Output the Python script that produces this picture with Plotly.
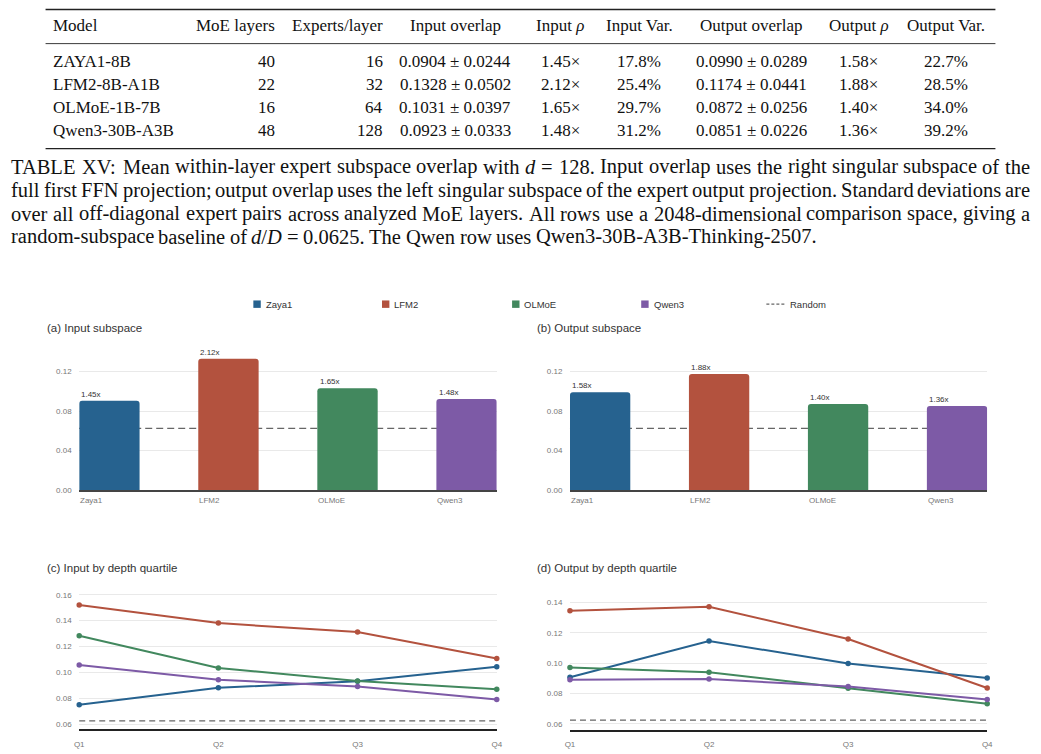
import re
import plotly.graph_objects as go

W, H = 1041, 754

# ---------------- data ----------------
models = ["Zaya1", "LFM2", "OLMoE", "Qwen3"]
colors = ["#26628F", "#B3523E", "#42885E", "#7D5AA6"]
input_overlap = [0.0904, 0.1328, 0.1031, 0.0923]
output_overlap = [0.0990, 0.1174, 0.0872, 0.0851]
input_ratio = ["1.45x", "2.12x", "1.65x", "1.48x"]
output_ratio = ["1.58x", "1.88x", "1.40x", "1.36x"]
random_baseline = 0.0625

quartiles = ["Q1", "Q2", "Q3", "Q4"]
zaya_input_q = [0.0751, 0.0881, 0.0932, 0.1044]
lfm_input_q = [0.1521, 0.1381, 0.1312, 0.1108]
olmoe_input_q = [0.1284, 0.1034, 0.0934, 0.0870]
qwen_input_q = [0.1057, 0.0944, 0.0891, 0.0791]
zaya_output_q = [0.0907, 0.1146, 0.0998, 0.0902]
lfm_output_q = [0.1346, 0.1372, 0.1159, 0.0837]
olmoe_output_q = [0.0972, 0.0941, 0.0835, 0.0733]
qwen_output_q = [0.0891, 0.0896, 0.0846, 0.0761]

bar_ticks = [0.00, 0.04, 0.08, 0.12]
in_q_ticks = [0.06, 0.08, 0.10, 0.12, 0.14, 0.16]
out_q_ticks = [0.06, 0.08, 0.10, 0.12, 0.14]

table_header = ["Model", "MoE layers", "Experts/layer", "Input overlap", "Input <i>ρ</i>",
                "Input Var.", "Output overlap", "Output <i>ρ</i>", "Output Var."]
table_models = ["ZAYA1-8B", "LFM2-8B-A1B", "OLMoE-1B-7B", "Qwen3-30B-A3B"]
moe_layers = ["40", "22", "16", "48"]
experts_per_layer = ["16", "32", "64", "128"]
input_overlap_txt = ["0.0904 ± 0.0244", "0.1328 ± 0.0502", "0.1031 ± 0.0397", "0.0923 ± 0.0333"]
input_rho_txt = ["1.45×", "2.12×", "1.65×", "1.48×"]
input_var_txt = ["17.8%", "25.4%", "29.7%", "31.2%"]
output_overlap_txt = ["0.0990 ± 0.0289", "0.1174 ± 0.0441", "0.0872 ± 0.0256", "0.0851 ± 0.0226"]
output_rho_txt = ["1.58×", "1.88×", "1.40×", "1.36×"]
output_var_txt = ["22.7%", "28.5%", "34.0%", "39.2%"]

caption_lines = [
    "TABLE XV: Mean within-layer expert subspace overlap with <i>d</i> = 128. Input overlap uses the right singular subspace of the",
    "full first FFN projection; output overlap uses the left singular subspace of the expert output projection. Standard deviations are",
    "over all off-diagonal expert pairs across analyzed MoE layers. All rows use a 2048-dimensional comparison space, giving a",
    "random-subspace baseline of <i>d</i>/<i>D</i> = 0.0625. The Qwen row uses Qwen3-30B-A3B-Thinking-2507.",
]

# ---------------- helpers ----------------
def px(x):
    return x / W

def py(y):
    return 1 - y / H

SANS = "Liberation Sans, Arial, sans-serif"
SERIF = "Liberation Serif, Times New Roman, serif"

_times = {}
for chars, w in [(" ", 250), ("!", 333), ("%", 833), ("(", 333), (")", 333), (",", 250), ("-", 333),
                 (".", 250), ("/", 278), ("0123456789", 500), (":;", 278), ("=", 564), ("?", 444),
                 ("A", 722), ("B", 667), ("C", 667), ("D", 722), ("E", 611), ("F", 556), ("G", 722),
                 ("H", 722), ("I", 333), ("J", 389), ("K", 722), ("L", 611), ("M", 889), ("N", 722),
                 ("O", 722), ("P", 556), ("Q", 722), ("R", 667), ("S", 556), ("T", 611), ("U", 722),
                 ("V", 722), ("W", 944), ("X", 722), ("Y", 722), ("Z", 611),
                 ("a", 444), ("b", 500), ("c", 444), ("d", 500), ("e", 444), ("f", 333), ("g", 500),
                 ("h", 500), ("i", 278), ("j", 278), ("k", 500), ("l", 278), ("m", 778), ("n", 500),
                 ("o", 500), ("p", 500), ("q", 500), ("r", 333), ("s", 389), ("t", 278), ("u", 500),
                 ("v", 500), ("w", 722), ("x", 500), ("y", 500), ("z", 444)]:
    for c in chars:
        _times[c] = w

def text_width(s, fs):
    plain = re.sub(r"<[^>]+>", "", s)
    return sum(_times.get(c, 500) for c in plain) * fs / 1000.0

fig = go.Figure()
annotations = []
shapes = []

# ---------------- table ----------------
TFS = 17
col_specs = [  # (x, anchor)
    (48, "left"), (274, "right"), (383, "right"), (455, "center"), (561, "center"),
    (641, "center"), (754, "center"), (863, "center"), (951, "center"),
]
header_y = 24
row_ys = [60, 83.3, 106.7, 130]
for (x, anc), txt in zip(col_specs, table_header):
    annotations.append(dict(x=px(x), y=py(header_y), xref="paper", yref="paper", text=txt,
                            showarrow=False, xanchor=anc, yanchor="middle", borderpad=0,
                            font=dict(family=SERIF, size=TFS, color="#111")))
columns = [table_models, moe_layers, experts_per_layer, input_overlap_txt, input_rho_txt,
           input_var_txt, output_overlap_txt, output_rho_txt, output_var_txt]
for (x, anc), col in zip(col_specs, columns):
    for ry, txt in zip(row_ys, col):
        annotations.append(dict(x=px(x), y=py(ry), xref="paper", yref="paper", text=txt,
                                showarrow=False, xanchor=anc, yanchor="middle", borderpad=0,
                                font=dict(family=SERIF, size=TFS, color="#111")))
for yy, lw in [(7.5, 1.4), (42, 0.9), (148, 1.4)]:
    shapes.append(dict(type="line", xref="paper", yref="paper", x0=px(41), x1=px(1001),
                       y0=py(yy), y1=py(yy), line=dict(color="#222", width=lw)))

# ---------------- caption (justified) ----------------
CFS = 20.5
cap_left, cap_right = 5, 1035
cap_ys = [166.5, 190, 213.5, 237]
for i, (line, cy) in enumerate(zip(caption_lines, cap_ys)):
    words = line.split(" ")
    widths = [text_width(w, CFS) for w in words]
    if i < len(caption_lines) - 1:
        gap = (cap_right - cap_left - sum(widths)) / (len(words) - 1)
    else:
        gap = 0.25 * CFS
    xx = cap_left
    for w, ww in zip(words, widths):
        annotations.append(dict(x=px(xx), y=py(cy), xref="paper", yref="paper", text=w,
                                showarrow=False, xanchor="left", yanchor="middle", borderpad=0,
                                font=dict(family=SERIF, size=CFS, color="#111")))
        xx += ww + gap

# ---------------- legend (manual) ----------------
legend_x = [251, 381, 512.5, 643]
legend_y = 305
for lx, name, c in zip(legend_x, models, colors):
    shapes.append(dict(type="rect", xref="paper", yref="paper", x0=px(lx), x1=px(lx + 7.5),
                       y0=py(legend_y + 3.75), y1=py(legend_y - 3.75),
                       fillcolor=c, line=dict(width=0)))
    annotations.append(dict(x=px(lx + 11.5), y=py(legend_y), xref="paper", yref="paper", text=name,
                            showarrow=False, xanchor="left", yanchor="middle", borderpad=0,
                            font=dict(family=SANS, size=9.5, color="#333")))
shapes.append(dict(type="line", xref="paper", yref="paper", x0=px(769.5), x1=px(788),
                   y0=py(legend_y), y1=py(legend_y), line=dict(color="#666", width=1.2, dash="3px,2px")))
annotations.append(dict(x=px(792.5), y=py(legend_y), xref="paper", yref="paper", text="Random",
                        showarrow=False, xanchor="left", yanchor="middle", borderpad=0,
                        font=dict(family=SANS, size=9.5, color="#333")))

# ---------------- panel titles ----------------
for tx, ty, t in [(41, 329, "(a) Input subspace"), (537, 329, "(b) Output subspace"),
                  (41, 571, "(c) Input by depth quartile"), (537, 571, "(d) Output by depth quartile")]:
    annotations.append(dict(x=px(tx), y=py(ty), xref="paper", yref="paper", text=t,
                            showarrow=False, xanchor="left", yanchor="middle", borderpad=0,
                            font=dict(family=SANS, size=11.5, color="#333")))

# ---------------- bar panels ----------------
BAR_W = 0.507
bar_panels = [("x", "y", input_overlap, input_ratio, 75, 497),
              ("x2", "y2", output_overlap, output_ratio, 571, 992.7)]
for xa, ya, vals, ratios, x0p, x1p in bar_panels:
    fig.add_trace(go.Bar(x=models, y=vals, xaxis=xa, yaxis=ya, width=BAR_W,
                         marker=dict(color=colors, line=dict(width=0), cornerradius=3),
                         showlegend=False, hoverinfo="skip"))
    half_px = (x1p - x0p) / (len(models) - 1 + BAR_W) * BAR_W / 2
    for m, v, r in zip(models, vals, ratios):
        annotations.append(dict(x=m, y=v, xref=xa, yref=ya, text=r, showarrow=False,
                                xanchor="left", yanchor="bottom", xshift=-half_px + 1.5, yshift=1,
                                borderpad=0, font=dict(family=SANS, size=8, color="#333")))
        annotations.append(dict(x=m, y=py(503.5), xref=xa, yref="paper", text=m, showarrow=False,
                                xanchor="left", yanchor="middle", xshift=-half_px, borderpad=0,
                                font=dict(family=SANS, size=8, color="#777")))
    shapes.append(dict(type="line", xref=xa + " domain", yref=ya, x0=0, x1=1,
                       y0=random_baseline, y1=random_baseline, layer="below",
                       line=dict(color="#666", width=1.3, dash="7px,4px")))

# ---------------- line panels ----------------
series_in = [zaya_input_q, lfm_input_q, olmoe_input_q, qwen_input_q]
series_out = [zaya_output_q, lfm_output_q, olmoe_output_q, qwen_output_q]
for xa, ya, series in [("x3", "y3", series_in), ("x4", "y4", series_out)]:
    for name, c, vals in zip(models, colors, series):
        fig.add_trace(go.Scatter(x=quartiles, y=vals, xaxis=xa, yaxis=ya, mode="lines+markers",
                                 name=name, line=dict(color=c, width=2),
                                 marker=dict(color=c, size=5.5), cliponaxis=False,
                                 showlegend=False, hoverinfo="skip"))
    shapes.append(dict(type="line", xref=xa + " domain", yref=ya, x0=0, x1=1,
                       y0=random_baseline, y1=random_baseline, layer="below",
                       line=dict(color="#666", width=1.3, dash="6px,4px")))

tickfont = dict(family=SANS, size=8, color="#777")
def yaxis_cfg(domain_px, rng, ticks, anchor):
    return dict(domain=[py(domain_px[0]), py(domain_px[1])], range=rng, anchor=anchor,
                tickvals=ticks, ticktext=[f"{t:.2f}" for t in ticks], tickfont=tickfont,
                showgrid=True, gridcolor="#e9e9e9", gridwidth=1, zeroline=False, showline=False,
                ticks="outside", ticklen=5, tickcolor="rgba(0,0,0,0)", fixedrange=True)

def xaxis_cfg(domain_px, rng, anchor, show_labels, linecolor):
    return dict(domain=[px(domain_px[0]), px(domain_px[1])], range=rng, anchor=anchor,
                type="category", showgrid=False, zeroline=False, showline=True,
                linecolor=linecolor, linewidth=1.5, showticklabels=show_labels, tickfont=tickfont,
                ticks="outside", ticklen=6, tickcolor="rgba(0,0,0,0)", fixedrange=True)

bar_rng = [-BAR_W / 2, len(models) - 1 + BAR_W / 2]
fig.update_layout(
    width=W, height=H, margin=dict(l=0, r=0, t=0, b=0),
    paper_bgcolor="white", plot_bgcolor="white", showlegend=False,
    xaxis=xaxis_cfg((75, 497), bar_rng, "y", False, "#444"),
    yaxis=yaxis_cfg((492.7, 353.0), [0, 0.14], bar_ticks, "x"),
    xaxis2=xaxis_cfg((571, 992.7), bar_rng, "y2", False, "#444"),
    yaxis2=yaxis_cfg((492.7, 353.0), [0, 0.14], bar_ticks, "x2"),
    xaxis3=xaxis_cfg((75, 497), [0, 3], "y3", True, "#222"),
    yaxis3=yaxis_cfg((734.2, 595.7), [0.056, 0.162], in_q_ticks, "x3"),
    xaxis4=xaxis_cfg((571, 992.7), [0, 3], "y4", True, "#222"),
    yaxis4=yaxis_cfg((734.4, 603.0), [0.0563, 0.142], out_q_ticks, "x4"),
    annotations=annotations, shapes=shapes,
)

fig.write_html("out.html")
